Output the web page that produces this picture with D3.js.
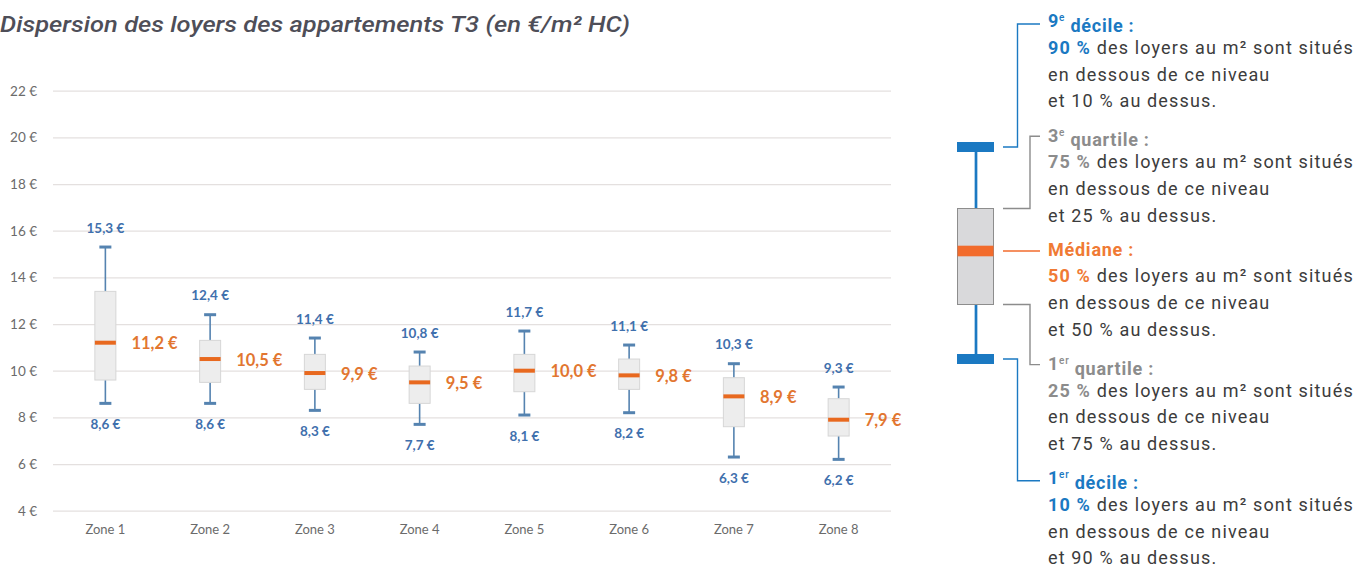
<!DOCTYPE html>
<html><head><meta charset="utf-8">
<script src="https://cdn.jsdelivr.net/npm/d3@7"></script>
<style>
html,body{margin:0;padding:0;background:#fff;}
svg{display:block;}
</style></head>
<body>
<svg id="c" width="1360" height="568"></svg>
<script>
// ---- data ----
const zones = ["Zone 1","Zone 2","Zone 3","Zone 4","Zone 5","Zone 6","Zone 7","Zone 8"];
const decile9   = [15.3,12.4,11.4,10.8,11.7,11.1,10.3,9.3];
const quartile3 = [13.4,11.3,10.7,10.2,10.7,10.5,9.7,8.8];
const median    = [11.2,10.5,9.9,9.5,10.0,9.8,8.9,7.9];
const quartile1 = [9.6,9.5,9.2,8.6,9.1,9.2,7.6,7.2];
const decile1   = [8.6,8.6,8.3,7.7,8.1,8.2,6.3,6.2];
const yTicks    = [4,6,8,10,12,14,16,18,20,22];
const title = "Dispersion des loyers des appartements T3 (en €/m² HC)";

const legendItems = [
  {key:"d9", sup:"e",  head:"9", name:" décile :",  pct:"90 %", rest:" des loyers au m² sont situés", l2:"en dessous de ce niveau", l3:"et 10 % au dessus."},
  {key:"q3", sup:"e",  head:"3", name:" quartile :", pct:"75 %", rest:" des loyers au m² sont situés", l2:"en dessous de ce niveau", l3:"et 25 % au dessus."},
  {key:"md", sup:"",   head:"Médiane :", name:"",     pct:"50 %", rest:" des loyers au m² sont situés", l2:"en dessous de ce niveau", l3:"et 50 % au dessus."},
  {key:"q1", sup:"er", head:"1", name:" quartile :", pct:"25 %", rest:" des loyers au m² sont situés", l2:"en dessous de ce niveau", l3:"et 75 % au dessus."},
  {key:"d1", sup:"er", head:"1", name:" décile :",  pct:"10 %", rest:" des loyers au m² sont situés", l2:"en dessous de ce niveau", l3:"et 90 % au dessus."}
];

const rows = zones.map((z,i)=>({zone:z,d9:decile9[i],q3:quartile3[i],md:median[i],q1:quartile1[i],d1:decile1[i]}));
const fmt = v => d3.format(".1f")(v).replace(".", ",") + " €";

const svg = d3.select("#c");
const chartFont = "Lato, 'Open Sans', sans-serif";

// title
const t = svg.append("text").attr("x",0).attr("y",32)
  .attr("font-family","Roboto, 'DejaVu Sans', sans-serif")
  .attr("font-style","italic").attr("font-weight",500)
  .attr("font-size",22).attr("fill","#4e4e58").text(title);
t.attr("textLength",630).attr("lengthAdjust","spacingAndGlyphs");

// scales
const y = d3.scaleLinear().domain([4,22]).range([510.7,90.7]);
const x = d3.scaleBand().domain(zones).range([53,891]).padding(0);
const cx = z => x(z) + x.bandwidth()/2;

// grid
const yAxis = d3.axisLeft(y).tickValues(yTicks).tickSize(-(891-53)).tickFormat(d => d + " €");
const ga = svg.append("g").attr("transform","translate(53,0)").call(yAxis);
ga.select(".domain").remove();
ga.selectAll(".tick line").attr("stroke","#e4e0df").attr("stroke-width",1.3);
ga.selectAll(".tick text").attr("x",-16).attr("font-family",chartFont)
  .attr("font-size",13.5).attr("fill","#6b6b6b");

// x axis labels
const xAxis = d3.axisBottom(x).tickSize(0);
const gx = svg.append("g").attr("transform","translate(0,522)").call(xAxis);
gx.select(".domain").remove();
gx.selectAll(".tick text").attr("font-family",chartFont).attr("font-size",13).attr("fill","#6b6b6b");

// boxes
const boxW = 21, capW = 12;
const g = svg.append("g").selectAll("g").data(rows).join("g");
const whisk = "#5583b0";
g.append("line").attr("x1",d=>cx(d.zone)).attr("x2",d=>cx(d.zone))
  .attr("y1",d=>y(d.d9)).attr("y2",d=>y(d.q3)).attr("stroke",whisk).attr("stroke-width",1.6);
g.append("line").attr("x1",d=>cx(d.zone)).attr("x2",d=>cx(d.zone))
  .attr("y1",d=>y(d.q1)).attr("y2",d=>y(d.d1)).attr("stroke",whisk).attr("stroke-width",1.6);
g.append("line").attr("x1",d=>cx(d.zone)-capW/2).attr("x2",d=>cx(d.zone)+capW/2)
  .attr("y1",d=>y(d.d9)).attr("y2",d=>y(d.d9)).attr("stroke",whisk).attr("stroke-width",3);
g.append("line").attr("x1",d=>cx(d.zone)-capW/2).attr("x2",d=>cx(d.zone)+capW/2)
  .attr("y1",d=>y(d.d1)).attr("y2",d=>y(d.d1)).attr("stroke",whisk).attr("stroke-width",3);
g.append("rect").attr("x",d=>cx(d.zone)-boxW/2).attr("width",boxW)
  .attr("y",d=>y(d.q3)).attr("height",d=>y(d.q1)-y(d.q3))
  .attr("fill","#ededed").attr("stroke","#d6d6d6").attr("stroke-width",1);
g.append("line").attr("x1",d=>cx(d.zone)-boxW/2).attr("x2",d=>cx(d.zone)+boxW/2)
  .attr("y1",d=>y(d.md)).attr("y2",d=>y(d.md)).attr("stroke","#e8691f").attr("stroke-width",4);

// labels
g.append("text").attr("x",d=>cx(d.zone)).attr("y",d=>y(d.d9)-19).attr("dy","0.35em")
  .attr("text-anchor","middle").attr("font-family",chartFont).attr("font-weight",700)
  .attr("font-size",13.5).attr("fill","#3f70ad").text(d=>fmt(d.d9));
g.append("text").attr("x",d=>cx(d.zone)).attr("y",d=>y(d.d1)+21).attr("dy","0.35em")
  .attr("text-anchor","middle").attr("font-family",chartFont).attr("font-weight",700)
  .attr("font-size",13.5).attr("fill","#3f70ad").text(d=>fmt(d.d1));
g.append("text").attr("x",d=>cx(d.zone)+26).attr("y",d=>y(d.md)+1).attr("dy","0.35em")
  .attr("font-family",chartFont).attr("font-weight",700)
  .attr("font-size",16.5).attr("fill","#e27630").text(d=>fmt(d.md));

// ---- legend schematic ----
const blue = "#1b79c2", gray = "#8c8c8c", orange = "#f26b2c";
const colors = {d9:blue,q3:gray,md:"#f07a34",q1:gray,d1:blue};
const L = svg.append("g");
// schematic geometry (layout, not data)
const lx0 = 957, lx1 = 994, lcx = 976;
const pos = {d9:147, q3:208.5, md:251, q1:304.5, d1:359};
L.append("line").attr("x1",lcx).attr("x2",lcx).attr("y1",pos.d9).attr("y2",pos.q3).attr("stroke",blue).attr("stroke-width",2.7);
L.append("line").attr("x1",lcx).attr("x2",lcx).attr("y1",pos.q1).attr("y2",pos.d1).attr("stroke",blue).attr("stroke-width",2.7);
L.append("rect").attr("x",lx0).attr("y",pos.d9-5).attr("width",lx1-lx0).attr("height",10).attr("fill",blue);
L.append("rect").attr("x",lx0).attr("y",pos.d1-5).attr("width",lx1-lx0).attr("height",10).attr("fill",blue);
L.append("rect").attr("x",lx0+0.5).attr("y",pos.q3).attr("width",lx1-lx0-1).attr("height",pos.q1-pos.q3)
  .attr("fill","#d9d9db").attr("stroke","#8d8d8d").attr("stroke-width",1);
L.append("rect").attr("x",lx0+0.5).attr("y",pos.md-5.3).attr("width",lx1-lx0-1).attr("height",10.6).attr("fill",orange);

const headY0 = 21, headStep = 114.2, lineH = 26.7, tx = 1048;
const connectors = {
  d9: {x:1017.5},
  q3: {x:1030},
  md: null,
  q1: {x:1030},
  d1: {x:1017.5}
};
const ff = "Roboto, 'Noto Sans', sans-serif";
const fs = 18, ls = "0.75px", lsBody = "1.15px";
legendItems.forEach((it,i)=>{
  const hy = headY0 + i*headStep;
  const col = colors[it.key];
  const lineCol = it.key==="md" ? orange : col;
  const ly = it.key==="d9" || it.key==="d1" ? hy+3 : hy+1;
  const c = connectors[it.key];
  const p = c ? `M1003,${pos[it.key]}H${c.x}V${ly}H1040` : `M1003,${pos[it.key]}H1040`;
  L.append("path").attr("d",p).attr("fill","none").attr("stroke",lineCol).attr("stroke-width",1.4);

  const h = L.append("text").attr("x",tx).attr("y",hy).attr("dy","0.35em")
    .attr("font-family",ff).attr("font-size",fs).attr("font-weight",700).attr("fill",col)
    .attr("letter-spacing",ls);
  if (it.sup) {
    h.append("tspan").text(it.head);
    h.append("tspan").attr("font-size",10).attr("font-weight",500).attr("dy","-0.6em").text(it.sup);
    h.append("tspan").attr("dy","0.6em").text(it.name);
  } else {
    h.text(it.head);
  }
  const l1 = L.append("text").attr("x",tx).attr("y",hy+lineH).attr("dy","0.35em")
    .attr("font-family",ff).attr("font-size",fs).attr("fill","#3c3c3c").attr("letter-spacing",lsBody);
  l1.append("tspan").attr("font-weight",700).attr("fill",col).text(it.pct);
  l1.append("tspan").text(it.rest);
  L.append("text").attr("x",tx).attr("y",hy+2*lineH).attr("dy","0.35em")
    .attr("font-family",ff).attr("font-size",fs).attr("fill","#3c3c3c").attr("letter-spacing",lsBody).text(it.l2);
  L.append("text").attr("x",tx).attr("y",hy+3*lineH).attr("dy","0.35em")
    .attr("font-family",ff).attr("font-size",fs).attr("fill","#3c3c3c").attr("letter-spacing",lsBody).text(it.l3);
});
</script>
</body></html>
